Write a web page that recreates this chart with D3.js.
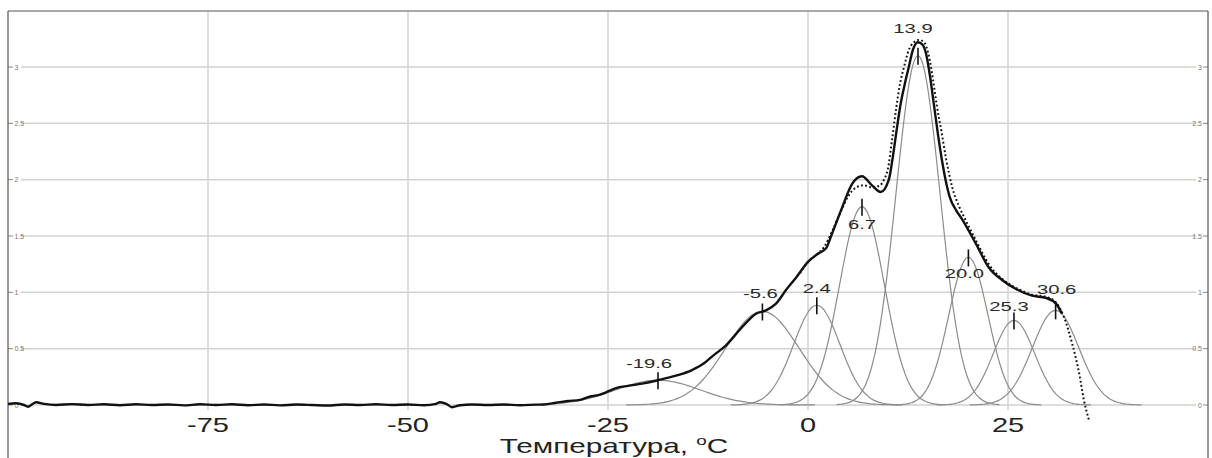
<!DOCTYPE html>
<html>
<head>
<meta charset="utf-8">
<script src="https://cdn.jsdelivr.net/npm/d3@7/dist/d3.min.js"></script>
<style>
  html, body { margin: 0; padding: 0; background: #fff; }
  svg { display: block; }
</style>
</head>
<body>
<svg id="chart" width="1212" height="458"></svg>
<script>
// ---------------- data ----------------
// experimental curve (temperature °C, signal)
const expT = [-100, -99, -98, -97.5, -96.5, -95.5, -94, -92, -90, -88, -86, -84, -82, -80, -78, -76, -74, -72, -70, -68, -66, -64, -62, -60, -58, -56, -54, -52, -50, -48, -46.5, -46, -45.2, -44.5, -43.5, -42, -40, -38, -36, -34, -33, -31.5, -30, -28.5, -27.5, -26.1, -25, -24, -22.5, -20.75, -18.75, -16.5, -14.5, -13, -12, -10.25, -8.25, -6.5, -5.25, -4, -2.75, -1.5, 0, 1.4, 2.25, 3, 4.25, 5.5, 6.75, 8, 9.1, 10.1, 10.6, 11.1, 11.6, 12.1, 12.6, 13.1, 13.75, 14.3, 14.75, 15.25, 15.75, 16.25, 16.75, 17.25, 17.7, 18.5, 19.25, 21, 22.6, 24.25, 26, 28, 29.75, 31, 31.75];
const expV = [0.01, 0.015, 0.0, -0.015, 0.025, 0.01, 0.0, 0.008, 0.0, 0.006, -0.002, 0.006, 0.0, 0.005, -0.003, 0.006, 0.0, 0.006, -0.002, 0.005, -0.003, 0.004, 0.0, -0.005, 0.004, 0.0, 0.006, 0.0, 0.004, -0.002, 0.01, 0.025, 0.01, -0.02, -0.002, 0.004, 0.0, 0.004, -0.002, 0.003, 0.005, 0.02, 0.035, 0.045, 0.07, 0.09, 0.12, 0.15, 0.17, 0.19, 0.22, 0.26, 0.31, 0.37, 0.43, 0.53, 0.69, 0.81, 0.84, 0.90, 1.02, 1.13, 1.27, 1.35, 1.39, 1.52, 1.75, 1.96, 2.03, 1.95, 1.89, 2.0, 2.2, 2.45, 2.68, 2.85, 3.0, 3.15, 3.22, 3.2, 3.12, 2.92, 2.66, 2.4, 2.17, 1.98, 1.85, 1.73, 1.65, 1.43, 1.22, 1.11, 1.03, 0.97, 0.95, 0.90, 0.81];

// fitted (dotted) curve
const fitT = [-1, 0, 1, 2, 3, 4, 5, 6, 7, 8, 9, 9.5, 10, 10.5, 11, 11.5, 12, 12.6, 13.25, 13.9, 14.5, 15.1, 15.6, 16.1, 16.7, 17.25, 18, 18.9, 19.5, 21, 22.6, 24.25, 26, 28, 29.75, 31, 32, 33, 33.9, 34.5, 35.1];
const fitV = [1.17, 1.27, 1.33, 1.40, 1.54, 1.70, 1.85, 1.93, 1.95, 1.93, 1.95, 2.0, 2.1, 2.35, 2.62, 2.85, 3.0, 3.15, 3.22, 3.24, 3.22, 3.1, 2.9, 2.66, 2.42, 2.19, 1.94, 1.76, 1.67, 1.46, 1.25, 1.12, 1.04, 0.98, 0.96, 0.91, 0.78, 0.55, 0.28, 0.04, -0.13];

// Gaussian components
const peakCenters = [-18.75, -5.7, 1.1, 6.75, 13.75, 20.05, 25.75, 30.95];
const peakHeights = [0.22, 0.83, 0.885, 1.76, 3.1, 1.31, 0.75, 0.84];
const peakSigmas  = [5.3, 4.6, 2.9, 2.8, 2.75, 2.46, 2.6, 2.9];
const peakLabels  = ["-19.6", "-5.6", "2.4", "6.7", "13.9", "20.0", "25.3", "30.6"];

// axes
const xTicks = [-75, -50, -25, 0, 25];
const xTickLabels = ["-75", "-50", "-25", "0", "25"];
const yTicks = [0, 0.5, 1, 1.5, 2, 2.5, 3];
const yTickLabels = ["0", "0.5", "1", "1.5", "2", "2.5", "3"];
const xTitle = "Температура, ";

// ---------------- layout ----------------
const labelDx = [-9, -2, 0, 0, -5, -4, -5, 1];
const labelDy = [-12, -13, -12, 22, -23, 21, -10, -16];

const svg = d3.select("#chart");
const pL = 8, pR = 1208, pT = 11, pB = 458;
const x = d3.scaleLinear().domain([-100, 50]).range([pL, pR]);
const y = d3.scaleLinear().domain([0, 3]).range([405, 67]);
const FONT = "Liberation Sans, Arial, sans-serif";

// gridlines
const grid = svg.append("g");
grid.selectAll("line.v").data(xTicks).enter().append("line")
  .attr("x1", d => x(d)).attr("x2", d => x(d))
  .attr("y1", pT).attr("y2", 410)
  .attr("stroke", "#d2d2d2").attr("stroke-width", 1.5);
grid.selectAll("line.h").data(yTicks).enter().append("line")
  .attr("x1", 21).attr("x2", 1196)
  .attr("y1", d => y(d)).attr("y2", d => y(d))
  .attr("stroke", "#d2d2d2").attr("stroke-width", 1.5);

// small y ticks + tiny labels (left and right)
const yt = svg.append("g");
yt.selectAll("line.l").data(yTicks).enter().append("line")
  .attr("x1", pL).attr("x2", 13).attr("y1", d => y(d)).attr("y2", d => y(d))
  .attr("stroke", "#888").attr("stroke-width", 1);
yt.selectAll("line.r").data(yTicks).enter().append("line")
  .attr("x1", 1203).attr("x2", pR).attr("y1", d => y(d)).attr("y2", d => y(d))
  .attr("stroke", "#888").attr("stroke-width", 1);
yt.selectAll("text.l").data(yTicks).enter().append("text")
  .attr("x", 14.5).attr("y", d => y(d) + 2.5)
  .attr("font-family", FONT).attr("font-size", 7)
  .attr("fill", "#777").text((d, i) => yTickLabels[i]);
yt.selectAll("text.r").data(yTicks).enter().append("text")
  .attr("x", 1202).attr("y", d => y(d) + 2.5).attr("text-anchor", "end")
  .attr("font-family", FONT).attr("font-size", 7)
  .attr("fill", "#777").text((d, i) => yTickLabels[i]);

// frame
svg.append("line").attr("x1", pL).attr("x2", pR).attr("y1", pT).attr("y2", pT)
  .attr("stroke", "#555").attr("stroke-width", 1.2);
svg.append("line").attr("x1", pL).attr("x2", pL).attr("y1", pT).attr("y2", pB)
  .attr("stroke", "#555").attr("stroke-width", 1.2);
svg.append("line").attr("x1", pR).attr("x2", pR).attr("y1", pT).attr("y2", pB)
  .attr("stroke", "#555").attr("stroke-width", 1.2);

// components
const comp = svg.append("g");
peakCenters.forEach((c, i) => {
  const s = peakSigmas[i], h = peakHeights[i];
  const pts = [];
  for (let k = -37; k <= 37; k++) {
    const t = c + k * s / 10;
    pts.push([t, h * Math.exp(-((t - c) ** 2) / (2 * s * s))]);
  }
  comp.append("path").datum(pts)
    .attr("d", d3.line().x(d => x(d[0])).y(d => y(d[1])).curve(d3.curveMonotoneX))
    .attr("fill", "none").attr("stroke", "#8c8c8c").attr("stroke-width", 1.2);
});

// fitted dotted curve
svg.append("path").datum(fitT.map((t, i) => [t, fitV[i]]))
  .attr("d", d3.line().x(d => x(d[0])).y(d => y(d[1])).curve(d3.curveMonotoneX))
  .attr("fill", "none").attr("stroke", "#111").attr("stroke-width", 2)
  .attr("stroke-dasharray", "1.8 2.4");

// experimental curve
svg.append("path").datum(expT.map((t, i) => [t, expV[i]]))
  .attr("d", d3.line().x(d => x(d[0])).y(d => y(d[1])).curve(d3.curveMonotoneX))
  .attr("fill", "none").attr("stroke", "#111").attr("stroke-width", 2.4)
  .attr("stroke-linejoin", "round");

// peak ticks and labels
const pk = svg.append("g");
peakCenters.forEach((c, i) => {
  const px = x(c), py = y(peakHeights[i]);
  pk.append("line").attr("x1", px).attr("x2", px).attr("y1", py - 8).attr("y2", py + 9)
    .attr("stroke", "#111").attr("stroke-width", 1.6);
  pk.append("text")
    .attr("transform", `translate(${px + labelDx[i]},${py + labelDy[i]}) scale(1.5,1)`)
    .attr("text-anchor", "middle")
    .attr("font-family", FONT).attr("font-size", 13.5)
    .attr("fill", "#2a2a2a").text(peakLabels[i]);
});

// x tick labels
svg.append("g").selectAll("text").data(xTicks).enter().append("text")
  .attr("transform", d => `translate(${x(d)},432) scale(1.45,1)`)
  .attr("text-anchor", "middle")
  .attr("font-family", FONT).attr("font-size", 20)
  .attr("fill", "#222").text((d, i) => xTickLabels[i]);

// axis title
const tt = svg.append("text")
  .attr("transform", "translate(614,453) scale(1.45,1)")
  .attr("text-anchor", "middle")
  .attr("font-family", FONT).attr("font-size", 20.5)
  .attr("fill", "#222");
tt.append("tspan").text(xTitle);
tt.append("tspan").attr("font-size", 13).attr("dy", -8).text("o");
tt.append("tspan").attr("dy", 8).text("C");
</script>
</body>
</html>
